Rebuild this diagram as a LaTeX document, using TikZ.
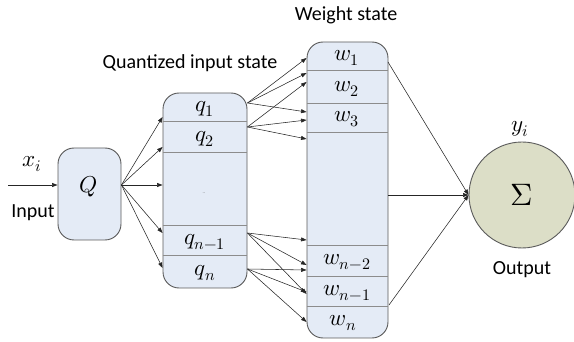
\documentclass[tikz,border=0pt]{standalone}
\usepackage{fontspec}
\usepackage{unicode-math}
\setmainfont{Carlito}
\setmathfont{Latin Modern Math}
\usetikzlibrary{arrows.meta}
\definecolor{boxfill}{RGB}{228,235,246}
\definecolor{boxline}{RGB}{90,90,90}
\definecolor{sepline}{RGB}{140,140,140}
\definecolor{sumfill}{RGB}{220,222,199}
\tikzset{
  box/.style={draw=boxline, line width=0.9pt, fill=boxfill, rounded corners=16pt, inner sep=0pt},
  sepl/.style={draw=sepline, line width=1pt},
  conn/.style={draw=black!85, line width=0.55pt, -{Triangle[length=5.5pt,width=4pt]}},
  lbl/.style={font=\fontsize{20}{24}\selectfont, inner sep=0pt},
  mlbl/.style={font=\fontsize{23}{27}\selectfont, inner sep=0pt}
}
\begin{document}
\begin{tikzpicture}[x=1pt,y=-1pt]
\useasboundingbox (0,0) rectangle (574,342);
% boxes
\node[box, minimum width=63pt, minimum height=92pt] (qbox0) at (89.5,194) {};
\node[box, minimum width=84pt, minimum height=195pt] (qbox) at (205,190.5) {};
\node[box, minimum width=81pt, minimum height=296pt] (wbox) at (347.5,190) {};
\node[draw=boxline, line width=0.9pt, fill=sumfill, circle, minimum size=106pt, inner sep=0pt] (sum) at (522,195) {};
% separators
\foreach \y in {122,153,226,256} \draw[sepl] (qbox.west |- 0,\y) -- (qbox.east |- 0,\y);
\foreach \y in {71,104,133,246,277,307} \draw[sepl] (wbox.west |- 0,\y) -- (wbox.east |- 0,\y);
% labels
\node[mlbl] (Ql) at (89,187) {$Q$};
\node[mlbl] (q1) at (205,109) {$q_1$};
\node[mlbl] (q2) at (205,139) {$q_2$};
\node[font=\fontsize{5}{6}\selectfont, inner sep=0pt, text=black!60] (qd) at (204,193) {..};
\node[mlbl] (qn1) at (205,242) {$q_{n-1}$};
\node[mlbl] (qn) at (205,273) {$q_n$};
\node[mlbl] (w1) at (347,58) {$w_1$};
\node[mlbl] (w2) at (347,89) {$w_2$};
\node[mlbl] (w3) at (347,119) {$w_3$};
\node[mlbl] (wn2) at (347,262) {$w_{n-2}$};
\node[mlbl] (wn1) at (347,293) {$w_{n-1}$};
\node[mlbl] (wn) at (343,323) {$w_n$};
\node[font=\fontsize{31}{35}\selectfont, inner sep=0pt] (sig) at (522,195) {$\Sigma$};
\node[mlbl] (xi) at (32,164) {$x_i$};
\node[mlbl] (yi) at (520,129) {$y_i$};
\node[lbl] (inp) at (33,213) {Input};
\node[lbl] (outp) at (522,270) {Output};
\node[lbl] (wst) at (346,15) {Weight state};
\node[lbl] (qst) at (190,63) {Quantized input state};
% input arrow
\coordinate (start) at (8,185);
\draw[conn] (start) -- (qbox0.west |- start);
% Q fan
\coordinate (qo) at (qbox0.east |- 0,185);
\foreach \y in {117,147,185,233,268} \draw[conn] (qo) -- (qbox.west |- 0,\y);
% q -> w
\coordinate (a1) at (qbox.east |- 0,103);
\coordinate (a2) at (qbox.east |- 0,127);
\coordinate (a3) at (qbox.east |- 0,233);
\coordinate (a4) at (qbox.east |- 0,269);
\foreach \y in {58,73,112} \draw[conn] (a1) -- (wbox.west |- 0,\y);
\foreach \y in {82,120,139} \draw[conn] (a2) -- (wbox.west |- 0,\y);
\foreach \y in {240,265,294} \draw[conn] (a3) -- (wbox.west |- 0,\y);
\foreach \y in {270,292,322} \draw[conn] (a4) -- (wbox.west |- 0,\y);
% w -> sum
\coordinate (b1) at (388,62);
\coordinate (b2) at (wbox.east |- 0,195);
\coordinate (b3) at (389,305);
\foreach \c in {b1,b2,b3} \draw[conn] (\c) -- (sum.west);
\end{tikzpicture}
\end{document}
